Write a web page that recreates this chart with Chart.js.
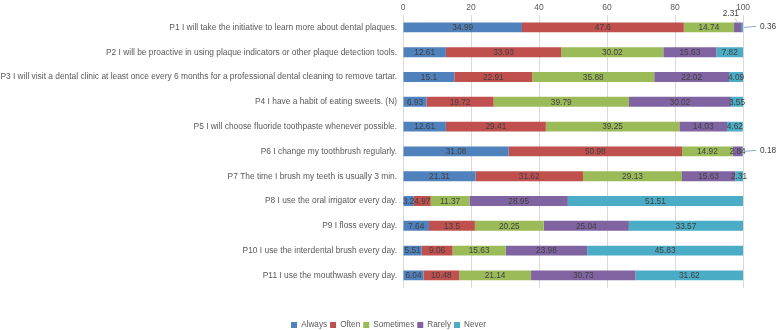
<!DOCTYPE html>
<html lang="en">
<head>
<meta charset="UTF-8">
<title>Oral hygiene behaviour</title>
<style>
    html, body { margin: 0; padding: 0; background: #fff; }
    #chartBox { width: 777px; height: 330px; }
</style>
</head>
<body>
<div id="chartBox"><canvas id="behaviourChart"></canvas></div>

<script src="https://cdn.jsdelivr.net/npm/chart.js"></script>
<script>
var items = [
    'P1 I will take the initiative to learn more about dental plaques.',
    'P2 I will be proactive in using plaque indicators or other plaque detection tools.',
    'P3 I will visit a dental clinic at least once every 6 months for a professional dental cleaning to remove tartar.',
    'P4 I have a habit of eating sweets. (N)',
    'P5 I will choose fluoride toothpaste whenever possible.',
    'P6 I change my toothbrush regularly.',
    'P7 The time I brush my teeth is usually 3 min.',
    'P8 I use the oral irrigator every day.',
    'P9 I floss every day.',
    'P10 I use the interdental brush every day.',
    'P11 I use the mouthwash every day.'
];

var always    = [34.99, 12.61, 15.1, 6.93, 12.61, 31.08, 21.31, 3.2, 7.64, 5.51, 6.04];
var often     = [47.6, 33.93, 22.91, 19.72, 29.41, 50.98, 31.62, 4.97, 13.5, 9.06, 10.48];
var sometimes = [14.74, 30.02, 35.88, 39.79, 39.25, 14.92, 29.13, 11.37, 20.25, 15.63, 21.14];
var rarely    = [2.31, 15.63, 22.02, 30.02, 14.03, 2.84, 15.63, 28.95, 25.04, 23.98, 30.73];
var never     = [0.36, 7.82, 4.09, 3.55, 4.62, 0.18, 2.31, 51.51, 33.57, 45.83, 31.62];

var xTicks = [0, 20, 40, 60, 80, 100];

var textGrey = '#595959';
var fontName = "'Liberation Sans', Arial, sans-serif";

// tiny labels that Excel pushed outside the bar
var raisedLabels = { '3:0': true };

var valueLabels = {
    id: 'valueLabels',
    afterDatasetsDraw: function(chart) {
        var ctx = chart.ctx;
        ctx.save();
        ctx.font = '8.3px ' + fontName;
        ctx.fillStyle = '#404040';
        ctx.textBaseline = 'middle';
        chart.data.datasets.forEach(function(ds, di) {
            var meta = chart.getDatasetMeta(di);
            meta.data.forEach(function(bar, i) {
                var v = ds.data[i];
                var txt = String(v);
                var mid = (bar.x + bar.base) / 2;
                if (v < 1) {
                    ctx.strokeStyle = '#8ea9c8';
                    ctx.lineWidth = 1;
                    ctx.beginPath();
                    ctx.moveTo(bar.x + 1, bar.y);
                    ctx.lineTo(bar.x + 13, bar.y - 1);
                    ctx.stroke();
                    ctx.textAlign = 'left';
                    ctx.fillText(txt, bar.x + 17, bar.y - 1);
                } else if (raisedLabels[di + ':' + i]) {
                    ctx.strokeStyle = '#bfbfbf';
                    ctx.beginPath();
                    ctx.moveTo(mid, bar.y - 5);
                    ctx.lineTo(mid - 3, bar.y - 9);
                    ctx.stroke();
                    ctx.textAlign = 'center';
                    ctx.fillText(txt, mid - 7, bar.y - 14);
                } else {
                    ctx.textAlign = 'center';
                    ctx.fillText(txt, mid, bar.y + 0.5);
                }
            });
        });
        ctx.restore();
    }
};

function makeSet(label, values, colour) {
    return {
        label: label,
        data: values,
        xAxisID: 'x',
        yAxisID: 'y',
        backgroundColor: colour,
        borderWidth: 0,
        barPercentage: 0.4,
        categoryPercentage: 1
    };
}

var ctx = document.getElementById('behaviourChart').getContext('2d');
var behaviourChart = new Chart(ctx, {
    type: 'bar',
    data: {
        labels: items,
        datasets: [
            makeSet('Always', always, '#4F81BD'),
            makeSet('Often', often, '#C0504D'),
            makeSet('Sometimes', sometimes, '#9BBB59'),
            makeSet('Rarely', rarely, '#8064A2'),
            makeSet('Never', never, '#4BACC6')
        ]
    },
    options: {
        indexAxis: 'y',
        responsive: true,
        maintainAspectRatio: false,
        animation: false,
        layout: { padding: { top: 0, right: 0, bottom: -9, left: 0 } },
        scales: {
            x: {
                position: 'top',
                stacked: true,
                min: 0,
                max: 100,
                afterBuildTicks: function(scale) {
                    scale.ticks = xTicks.map(function(t) { return { value: t }; });
                },
                afterFit: function(scale) { scale.height = 15; },
                grid: { color: '#d9d9d9', drawTicks: false },
                border: { display: false },
                ticks: { color: textGrey, padding: 2, font: { family: fontName, size: 8.5 } }
            },
            y: {
                stacked: true,
                grid: { display: false, drawTicks: false },
                border: { display: false },
                afterFit: function(scale) { scale.width = 403; },
                ticks: { color: textGrey, padding: 6, autoSkip: false, font: { family: fontName, size: 8.4 } }
            },
            // empty axes that only keep room for the outside labels and the legend
            gap: {
                type: 'linear',
                axis: 'x',
                position: 'bottom',
                display: true,
                grid: { display: false, drawTicks: false },
                border: { display: false },
                ticks: { display: false },
                afterFit: function(scale) { scale.height = 30; }
            },
            side: {
                type: 'linear',
                axis: 'y',
                position: 'right',
                display: true,
                grid: { display: false, drawTicks: false },
                border: { display: false },
                ticks: { display: false },
                afterFit: function(scale) { scale.width = 34; }
            }
        },
        plugins: {
            legend: {
                position: 'bottom',
                labels: {
                    color: textGrey,
                    boxWidth: 6,
                    boxHeight: 6,
                    padding: 3,
                    font: { family: fontName, size: 8.2 }
                }
            },
            tooltip: { enabled: false }
        }
    },
    plugins: [valueLabels]
});
</script>
</body>
</html>
